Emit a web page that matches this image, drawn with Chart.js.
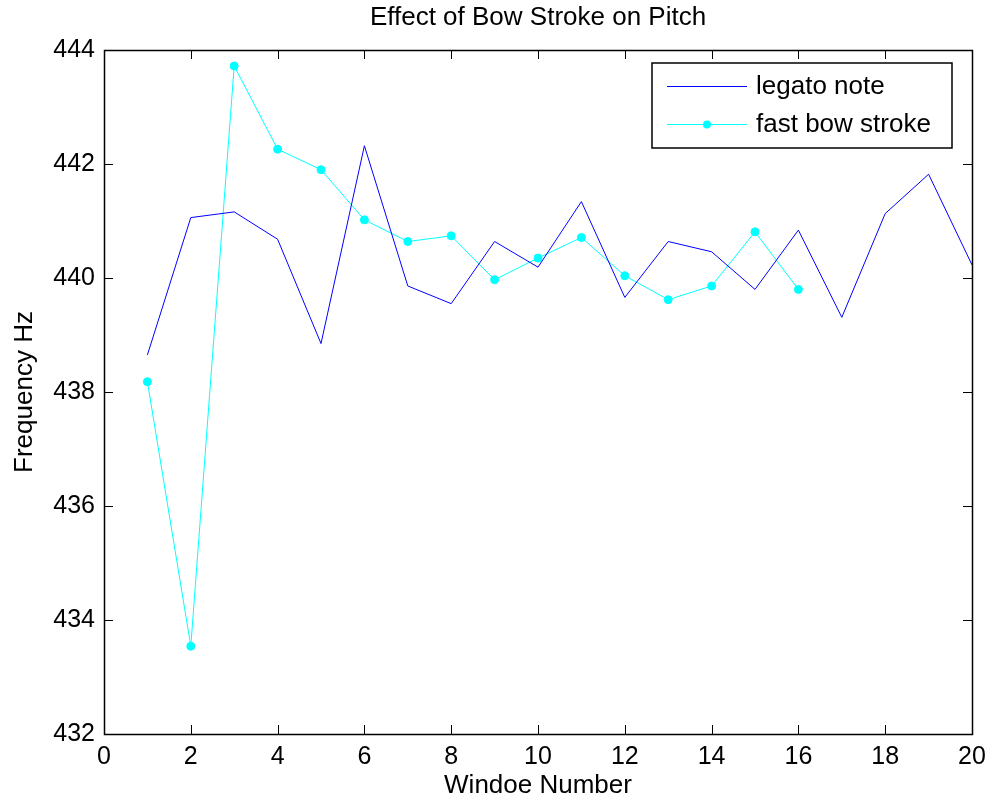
<!DOCTYPE html>
<html>
<head>
<meta charset="utf-8">
<title>Effect of Bow Stroke on Pitch</title>
<script src="https://cdn.jsdelivr.net/npm/chart.js@4.4.1/dist/chart.umd.min.js"></script>
<style>
  html, body { margin: 0; padding: 0; background: #fff; }
  #wrap { width: 989px; height: 802px; }
</style>
</head>
<body>
<div id="wrap"><canvas id="pitchChart" width="989" height="802"></canvas></div>
<script>
// window numbers and measured frequencies (Hz)
const legatoWindows = [1, 2, 3, 4, 5, 6, 7, 8, 9, 10, 11, 12, 13, 14, 15, 16, 17, 18, 19, 20];
const legatoFreq = [438.65, 441.06, 441.16, 440.68, 438.85, 442.32, 439.86, 439.55, 440.64, 440.19,
                    441.34, 439.66, 440.64, 440.46, 439.80, 440.84, 439.31, 441.13, 441.82, 440.23];
const fastWindows = [1, 2, 3, 4, 5, 6, 7, 8, 9, 10, 11, 12, 13, 14, 15, 16];
const fastFreq = [438.18, 433.54, 443.72, 442.26, 441.90, 441.02, 440.64, 440.74, 439.97, 440.35,
                  440.71, 440.04, 439.62, 439.86, 440.81, 439.80];
const xTickValues = [0, 2, 4, 6, 8, 10, 12, 14, 16, 18, 20];
const yTickValues = [432, 434, 436, 438, 440, 442, 444];
const chartTitle = 'Effect of Bow Stroke on Pitch';

const FONT = '"Liberation Sans", Arial, sans-serif';

const toPoints = (xs, ys) => xs.map((x, i) => ({ x: x, y: ys[i] }));

// matlab-style box with inward ticks on all four sides, title centred over the axes
const boxPlugin = {
  id: 'matlabBox',
  afterDatasetsDraw(chart) {
    const { ctx, chartArea: a, scales } = chart;
    const len = 9;
    ctx.save();
    ctx.strokeStyle = '#000';
    ctx.lineWidth = 1;
    ctx.beginPath();
    xTickValues.forEach(v => {
      const px = Math.round(scales.x.getPixelForValue(v)) + 0.5;
      ctx.moveTo(px, a.bottom); ctx.lineTo(px, a.bottom - len);
      ctx.moveTo(px, a.top); ctx.lineTo(px, a.top + len);
    });
    yTickValues.forEach(v => {
      const py = Math.round(scales.y.getPixelForValue(v)) + 0.5;
      ctx.moveTo(a.left, py); ctx.lineTo(a.left + len, py);
      ctx.moveTo(a.right, py); ctx.lineTo(a.right - len, py);
    });
    ctx.stroke();
    ctx.lineWidth = 1.5;
    ctx.strokeRect(Math.round(a.left) + 0.5, Math.round(a.top) + 0.5,
                   Math.round(a.right - a.left), Math.round(a.bottom - a.top));

    ctx.fillStyle = '#000';
    ctx.font = '26px ' + FONT;
    ctx.textAlign = 'center';
    ctx.textBaseline = 'middle';
    ctx.fillText(chartTitle, (a.left + a.right) / 2, a.top - 32);
    ctx.restore();
  }
};

// legend box inside the axes, top right
const legendPlugin = {
  id: 'innerLegend',
  afterDraw(chart) {
    const { ctx, chartArea: a } = chart;
    const bx = a.right - 320, by = a.top + 13, bw = 300, bh = 85;
    ctx.save();
    ctx.fillStyle = '#fff';
    ctx.fillRect(bx, by, bw, bh);
    ctx.strokeStyle = '#000';
    ctx.lineWidth = 1.5;
    ctx.strokeRect(bx, by, bw, bh);
    chart.data.datasets.forEach((ds, i) => {
      const ly = by + 23 + i * 38;
      ctx.strokeStyle = ds.borderColor;
      ctx.lineWidth = 1;
      ctx.beginPath();
      ctx.moveTo(bx + 15, ly + 0.5);
      ctx.lineTo(bx + 95, ly + 0.5);
      ctx.stroke();
      if (ds.pointRadius > 0) {
        ctx.fillStyle = ds.pointBackgroundColor;
        ctx.beginPath();
        ctx.arc(bx + 55, ly + 0.5, ds.pointRadius, 0, Math.PI * 2);
        ctx.fill();
      }
      ctx.fillStyle = '#000';
      ctx.font = '26px ' + FONT;
      ctx.textBaseline = 'middle';
      ctx.textAlign = 'left';
      ctx.fillText(ds.label, bx + 104, ly + 1);
    });
    ctx.restore();
  }
};

const ctx = document.getElementById('pitchChart').getContext('2d');
new Chart(ctx, {
  type: 'line',
  data: {
    datasets: [{
      label: 'legato note',
      data: toPoints(legatoWindows, legatoFreq),
      borderColor: '#0000ff',
      backgroundColor: '#0000ff',
      borderWidth: 1,
      pointRadius: 0,
      tension: 0
    }, {
      label: 'fast bow stroke',
      data: toPoints(fastWindows, fastFreq),
      borderColor: '#00ffff',
      backgroundColor: '#00ffff',
      pointBackgroundColor: '#00ffff',
      pointBorderColor: '#00ffff',
      borderWidth: 1,
      pointRadius: 4,
      tension: 0
    }]
  },
  options: {
    responsive: false,
    animation: false,
    events: [],
    layout: { padding: { left: 0, right: 17, top: 50, bottom: 0 } },
    plugins: {
      legend: { display: false },
      tooltip: { enabled: false },
      title: { display: false }
    },
    scales: {
      x: {
        type: 'linear',
        min: 0,
        max: 20,
        afterFit: (scale) => {
          scale.height = 68;
          scale.paddingLeft = 0;
          scale.paddingRight = 0;
        },
        afterBuildTicks: (scale) => { scale.ticks = xTickValues.map(v => ({ value: v })); },
        grid: { display: false, drawTicks: false },
        border: { display: false },
        ticks: { color: '#000', padding: 8, font: { family: FONT, size: 25 } },
        title: {
          display: true,
          text: 'Windoe Number',
          color: '#000',
          font: { family: FONT, size: 26 },
          padding: { top: 2, bottom: 1 }
        }
      },
      y: {
        type: 'linear',
        min: 432,
        max: 444,
        afterFit: (scale) => {
          scale.width = 104;
          scale.paddingTop = 0;
          scale.paddingBottom = 0;
        },
        afterBuildTicks: (scale) => { scale.ticks = yTickValues.map(v => ({ value: v })); },
        grid: { display: false, drawTicks: false },
        border: { display: false },
        ticks: { color: '#000', padding: 9, font: { family: FONT, size: 25 } },
        title: {
          display: true,
          text: 'Frequency Hz',
          color: '#000',
          font: { family: FONT, size: 26 },
          padding: { top: 9, bottom: 9 }
        }
      }
    }
  },
  plugins: [boxPlugin, legendPlugin]
});
</script>
</body>
</html>
